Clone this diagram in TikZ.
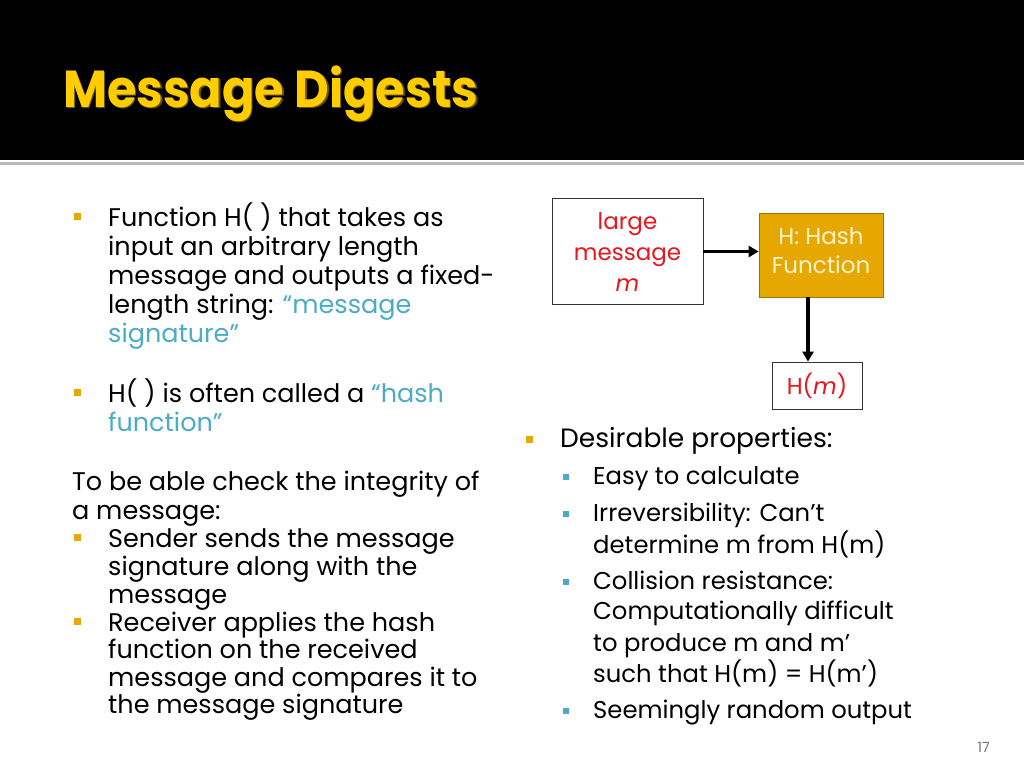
\documentclass[tikz,border=0pt]{standalone}
\usepackage{fontspec}
\setmainfont{Poppins}
\usetikzlibrary{arrows.meta}
\definecolor{gold}{HTML}{FFCC00}
\definecolor{bulorange}{HTML}{E8A800}
\definecolor{bulblue}{HTML}{4BACC6}
\definecolor{quoteblue}{HTML}{4BACC6}
\definecolor{boxred}{HTML}{E8161E}
\definecolor{hashfill}{HTML}{E6A800}
\definecolor{hashtext}{HTML}{FFF3D0}
\tikzset{
  txt/.style={anchor=base west, inner sep=0pt, font=\fontsize{25.5}{30}\selectfont},
  txtr/.style={anchor=base west, inner sep=0pt, font=\fontsize{26.5}{30}\selectfont},
  txtb/.style={anchor=base west, inner sep=0pt, font=\fontsize{24.3}{29}\selectfont},
  bulo/.style={fill=bulorange, minimum size=7pt, inner sep=0pt},
  bulb/.style={fill=bulblue, minimum size=6pt, inner sep=0pt},
  flowarrow/.style={line width=3.5pt, -{Triangle[length=10pt,width=11pt]}},
}
\begin{document}
\begin{tikzpicture}[x=1pt,y=-1pt]
\useasboundingbox (0,0) rectangle (1024,768);
\fill[white] (0,0) rectangle (1024,768);
% header
\fill[black] (0,0) rectangle (1024,160);
\fill[gray!55] (0,162) rectangle (1024,165);
\node[anchor=base west, inner sep=0pt, text=gold!40!black, font=\fontsize{52}{58}\selectfont\bfseries] (titleshadow) at (64.5,108.5) {\scalebox{0.92}[1]{Message Digests}};
\node[anchor=base west, inner sep=0pt, text=gold, font=\fontsize{52}{58}\selectfont\bfseries] (title) at (63,107) {\scalebox{0.92}[1]{Message Digests}};
% left column
\node[bulo] (b1) at (77,216) {};
\node[txt] (l1) at (108,226) {Function H( ) that takes as};
\node[txt] (l2) at (108,255) {input an arbitrary length};
\node[txt] (l3) at (108,284) {message and outputs a fixed-};
\node[txt] (l4) at (108,313) {length string: \textcolor{quoteblue}{“message}};
\node[txt, text=quoteblue] (l5) at (108,342) {signature”};
\node[bulo] (b2) at (77,392) {};
\node[txt] (l6) at (108,402) {H( ) is often called a \textcolor{quoteblue}{“hash}};
\node[txt, text=quoteblue] (l7) at (108,431) {function”};
\node[txt] (l8) at (72,490) {To be able check the integrity of};
\node[txt] (l9) at (72,519) {a message:};
\node[bulo] (b3) at (77,537) {};
\node[txt] (l10) at (108,547) {Sender sends the message};
\node[txt] (l11) at (108,575) {signature along with the};
\node[txt] (l12) at (108,603) {message};
\node[bulo] (b4) at (77,621) {};
\node[txt] (l13) at (108,631) {Receiver applies the hash};
\node[txt] (l14) at (108,658) {function on the received};
\node[txt] (l15) at (108,686) {message and compares it to};
\node[txt] (l16) at (108,713) {the message signature};
% diagram
\node[draw=black!80, line width=0.8pt, minimum width=151pt, minimum height=106pt, inner sep=0pt,
      align=center, text=boxred, font=\fontsize{23}{31}\selectfont] (msg) at (627.5,251.5)
      {large\\message\\\textit{m}};
\node[draw=hashfill!70!black, fill=hashfill, line width=0.8pt, minimum width=124pt, minimum height=84pt,
      inner sep=0pt] (hash) at (821,255) {};
\node[align=center, inner sep=0pt, text=hashtext, font=\fontsize{23}{29}\selectfont] (hashlbl) at (821,251)
      {H: Hash\\Function};
\node[draw=black!80, line width=0.8pt, minimum width=90pt, minimum height=47pt, inner sep=0pt,
      text=boxred, font=\fontsize{23}{28}\selectfont] (hm) at (817,385.5) {H(\textit{m})};
\draw[flowarrow] (msg.east) -- (msg.east -| hash.west);
\coordinate (a2) at (808,297);
\draw[flowarrow] (a2) -- (a2 |- hm.north);
% right column
\node[bulo] (b5) at (529,439) {};
\node[txtr] (r1) at (560,447) {Desirable properties:};
\node[bulb] (c1) at (566,477) {};
\node[txtb] (r2) at (593,484) {Easy to calculate};
\node[bulb] (c2) at (566,514) {};
\node[txtb] (r3) at (593,521) {Irreversibility: Can’t};
\node[txtb] (r4) at (593,553) {determine m from H(m)};
\node[bulb] (c3) at (566,582) {};
\node[txtb] (r5) at (593,589) {Collision resistance:};
\node[txtb] (r6) at (593,619) {Computationally difficult};
\node[txtb] (r7) at (593,651) {to produce m and m’};
\node[txtb] (r8) at (593,682) {such that H(m) = H(m’)};
\node[bulb] (c4) at (566,711) {};
\node[txtb] (r9) at (593,718) {Seemingly random output};
% page number
\node[anchor=base east, inner sep=0pt, text=black!55, font=\fontsize{14}{16}\selectfont] (pg) at (990,752) {17};
\end{tikzpicture}
\end{document}
